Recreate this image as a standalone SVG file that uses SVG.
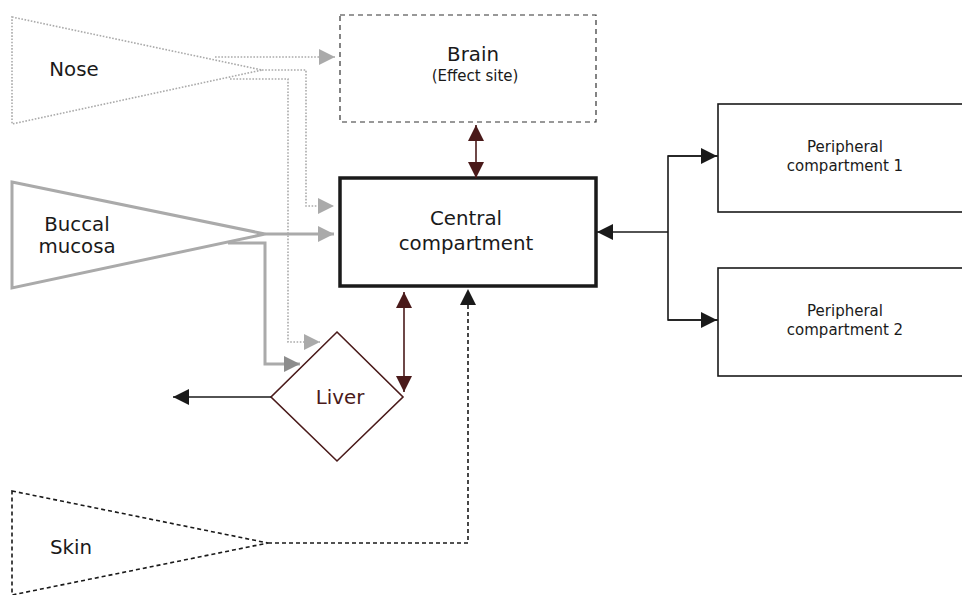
<svg xmlns="http://www.w3.org/2000/svg" width="962" height="595" viewBox="0 0 962 595">
<style>
text{font-family:"DejaVu Sans","Liberation Sans",sans-serif;fill:#1a1a1a;text-anchor:middle}
.big{font-size:19.8px}
.sm{font-size:15px}
.gdot{fill:none;stroke:#aaa;stroke-width:1.6;stroke-dasharray:1.6 1.6}
.gsol{fill:none;stroke:#aaa;stroke-width:3}
.blk{fill:none;stroke:#1a1a1a;stroke-width:1.6}
.red{fill:none;stroke:#4a1a1a;stroke-width:1.6}
</style>
<defs>
<marker id="ag" markerUnits="userSpaceOnUse" markerWidth="18" markerHeight="18" refX="16" refY="8" orient="auto"><path d="M0,0 L16,8 L0,16 Z" fill="#aaa"/></marker>
<marker id="ag2" markerUnits="userSpaceOnUse" markerWidth="18" markerHeight="18" refX="16" refY="8" orient="auto"><path d="M0,0 L16,8 L0,16 Z" fill="#8c8c8c"/></marker>
<marker id="ak" markerUnits="userSpaceOnUse" markerWidth="18" markerHeight="18" refX="16" refY="8" orient="auto"><path d="M0,0 L16,8 L0,16 Z" fill="#1a1a1a"/></marker>
<marker id="ar" markerUnits="userSpaceOnUse" markerWidth="18" markerHeight="18" refX="16" refY="8" orient="auto-start-reverse"><path d="M0,0 L16,8 L0,16 Z" fill="#4a1a1a"/></marker>
</defs>
<g id="nose"><polygon points="12,17 262,70 12,124" class="gdot"/><text x="74" y="76" class="big">Nose</text></g>
<g id="buccal"><polygon points="12,182 265,234 12,288" class="gsol"/><text x="77" y="231" class="big">Buccal</text><text x="77" y="253" class="big">mucosa</text></g>
<g id="skin"><polygon points="12,491 268,543 12,595" fill="none" stroke="#1a1a1a" stroke-width="1.6" stroke-dasharray="4 3"/><text x="71" y="554" class="big">Skin</text></g>
<g id="brain"><rect x="340" y="15" width="256" height="107" fill="none" stroke="#333" stroke-width="1.2" stroke-dasharray="5 4"/><text x="473" y="61" class="big">Brain</text><text x="475" y="81" class="sm">(Effect site)</text></g>
<g id="central"><rect x="340" y="178" width="256" height="108" fill="none" stroke="#1a1a1a" stroke-width="3.5"/><text x="466" y="225" class="big">Central</text><text x="466" y="250" class="big">compartment</text></g>
<g id="liver"><polygon points="337,332 403,397 337,461 271,397" fill="none" stroke="#4a1a1a" stroke-width="1.6"/><text x="340" y="404" class="big" style="fill:#4a1a1a">Liver</text></g>
<g id="periph1"><rect x="718" y="104" width="260" height="108" fill="none" stroke="#1a1a1a" stroke-width="1.6"/><text x="845" y="152" class="sm">Peripheral</text><text x="845" y="171" class="sm">compartment 1</text></g>
<g id="periph2"><rect x="718" y="268" width="260" height="108" fill="none" stroke="#1a1a1a" stroke-width="1.6"/><text x="845" y="316" class="sm">Peripheral</text><text x="845" y="335" class="sm">compartment 2</text></g>
<g id="connectors">
<path d="M215,57 H335" class="gdot" marker-end="url(#ag)"/>
<path d="M262,70 H306 V206 H334" class="gdot" marker-end="url(#ag)"/>
<path d="M230,79 H288 V342 H320" class="gdot" marker-end="url(#ag)"/>
<path d="M265,234 H334" class="gsol" marker-end="url(#ag)"/>
<path d="M228,243 H265 V364 H300" class="gsol" marker-end="url(#ag2)"/>
<path d="M476,125 V178" class="red" marker-start="url(#ar)" marker-end="url(#ar)"/>
<path d="M404,292 V392" class="red" marker-start="url(#ar)" marker-end="url(#ar)"/>
<path d="M271,397 H173" class="blk" marker-end="url(#ak)"/>
<path d="M268,543 H468 V289" fill="none" stroke="#1a1a1a" stroke-width="1.6" stroke-dasharray="4 3" marker-end="url(#ak)"/>
<path d="M668,232 H597" class="blk" marker-end="url(#ak)"/>
<path d="M718,156 H668 V320 H718" class="blk"/>
<path d="M668,156 H717" class="blk" marker-end="url(#ak)"/>
<path d="M668,320 H717" class="blk" marker-end="url(#ak)"/>
</g>
</svg>
